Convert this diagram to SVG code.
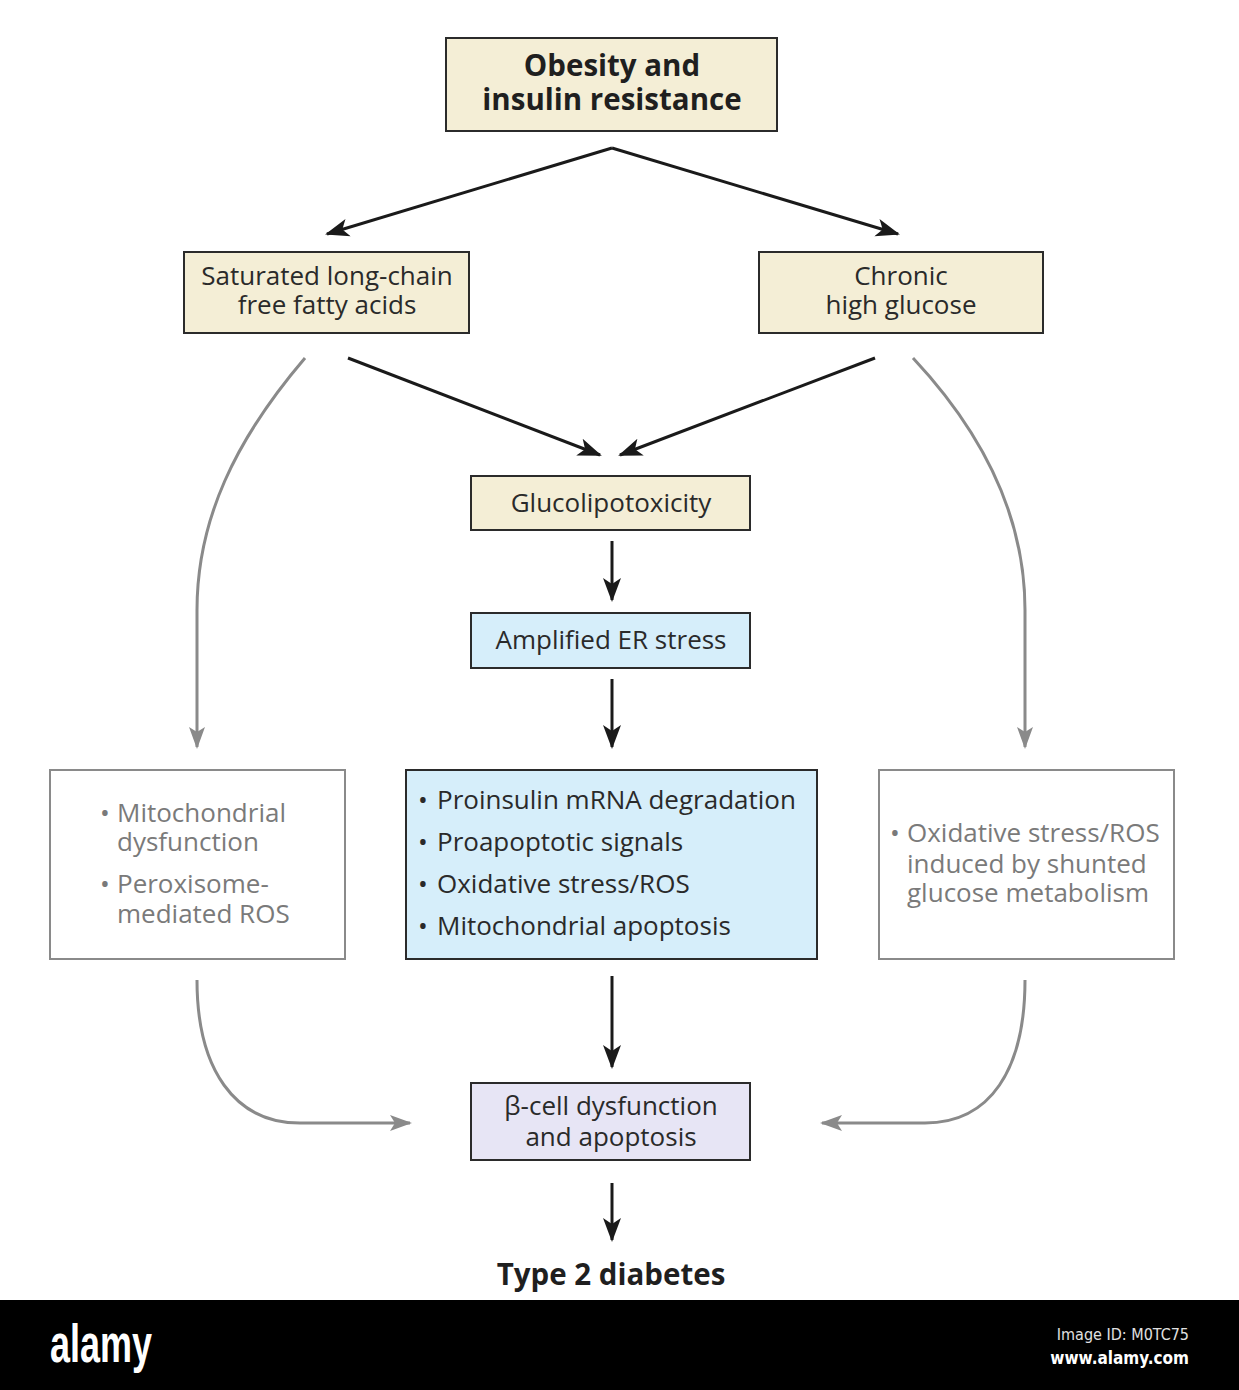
<svg xmlns="http://www.w3.org/2000/svg" width="1239" height="1390" viewBox="0 0 1239 1390">
<defs>
<style>
.box{stroke:#2b2b2b;stroke-width:2}
.beige{fill:#f4eed6}
.blue{fill:#d6eefa}
.lav{fill:#e7e5f5}
.gbox{fill:#ffffff;stroke:#8a8a8a;stroke-width:2}
.t{font-family:"Open Sans","Noto Sans","Liberation Sans",sans-serif;fill:#2a2a2a;font-size:26px}
.tb{font-family:"Open Sans","Noto Sans","Liberation Sans",sans-serif;fill:#1f1f1f;font-size:29.5px;font-weight:bold}
.g{font-family:"Open Sans","Noto Sans","Liberation Sans",sans-serif;fill:#7a7a7a;font-size:26px}
.c{text-anchor:middle}
.k{fill:none;stroke:#1a1a1a;stroke-width:3}
.gr{fill:none;stroke:#8a8a8a;stroke-width:3}
</style>
<marker id="ak" markerUnits="userSpaceOnUse" markerWidth="24" markerHeight="20" viewBox="0 0 24 20" refX="22" refY="10" orient="auto">
<path d="M0,1 L24,10 L0,19 L6,10 Z" fill="#1a1a1a"/>
</marker>
<marker id="ag" markerUnits="userSpaceOnUse" markerWidth="22" markerHeight="18" viewBox="0 0 22 18" refX="20" refY="9" orient="auto">
<path d="M0,1 L22,9 L0,17 L5,9 Z" fill="#8a8a8a"/>
</marker>
</defs>
<rect width="1239" height="1390" fill="#ffffff"/>

<g id="connectors">
<path class="k" d="M612,148 L327,234" marker-end="url(#ak)"/>
<path class="k" d="M612,148 L898,234" marker-end="url(#ak)"/>
<path class="k" d="M348,358 L600,455" marker-end="url(#ak)"/>
<path class="k" d="M875,358 L620,455" marker-end="url(#ak)"/>
<path class="k" d="M612,541 L612,600" marker-end="url(#ak)"/>
<path class="k" d="M612,679 L612,747" marker-end="url(#ak)"/>
<path class="k" d="M612,976 L612,1067" marker-end="url(#ak)"/>
<path class="k" d="M612,1183 L612,1240" marker-end="url(#ak)"/>
<path class="gr" d="M305,358 C235,440 197,520 197,610 L197,747" marker-end="url(#ag)"/>
<path class="gr" d="M913,358 C985,435 1025,520 1025,610 L1025,747" marker-end="url(#ag)"/>
<path class="gr" d="M197,980 C197,1070 235,1123 300,1123 L410,1123" marker-end="url(#ag)"/>
<path class="gr" d="M1025,980 C1025,1070 990,1123 925,1123 L822,1123" marker-end="url(#ag)"/>
</g>

<g id="obesity">
<rect class="box beige" x="446" y="38" width="331" height="93"/>
<text class="tb c" x="612" y="76">Obesity and</text>
<text class="tb c" x="612" y="110">insulin resistance</text>
</g>

<g id="ffa">
<rect class="box beige" x="184" y="252" width="285" height="81"/>
<text class="t c" x="327" y="285">Saturated long-chain</text>
<text class="t c" x="327" y="314">free fatty acids</text>
</g>

<g id="glucose">
<rect class="box beige" x="759" y="252" width="284" height="81"/>
<text class="t c" x="901" y="285">Chronic</text>
<text class="t c" x="901" y="314">high glucose</text>
</g>

<g id="glucolipotoxicity">
<rect class="box beige" x="471" y="476" width="279" height="54"/>
<text class="t c" x="611" y="512" font-size="27">Glucolipotoxicity</text>
</g>

<g id="er-stress">
<rect class="box blue" x="471" y="613" width="279" height="55"/>
<text class="t c" x="611" y="649">Amplified ER stress</text>
</g>

<g id="mechanisms">
<rect class="box blue" x="406" y="770" width="411" height="189"/>
<text class="t" x="418" y="809">•</text><text class="t" x="437" y="809">Proinsulin mRNA degradation</text>
<text class="t" x="418" y="851">•</text><text class="t" x="437" y="851">Proapoptotic signals</text>
<text class="t" x="418" y="893">•</text><text class="t" x="437" y="893">Oxidative stress/ROS</text>
<text class="t" x="418" y="935">•</text><text class="t" x="437" y="935">Mitochondrial apoptosis</text>
</g>

<g id="ffa-effects">
<rect class="gbox" x="50" y="770" width="295" height="189"/>
<text class="g" x="100" y="822">•</text><text class="g" x="117" y="822">Mitochondrial</text>
<text class="g" x="117" y="851">dysfunction</text>
<text class="g" x="100" y="893">•</text><text class="g" x="117" y="893">Peroxisome-</text>
<text class="g" x="117" y="923">mediated ROS</text>
</g>

<g id="glucose-effects">
<rect class="gbox" x="879" y="770" width="295" height="189"/>
<text class="g" x="890" y="842">•</text><text class="g" x="907" y="842">Oxidative stress/ROS</text>
<text class="g" x="907" y="873">induced by shunted</text>
<text class="g" x="907" y="902">glucose metabolism</text>
</g>

<g id="beta-cell">
<rect class="box lav" x="471" y="1083" width="279" height="77"/>
<text class="t c" x="611" y="1115">β-cell dysfunction</text>
<text class="t c" x="611" y="1146">and apoptosis</text>
</g>

<g id="t2d">
<text class="tb c" x="611" y="1285" font-size="30">Type 2 diabetes</text>
</g>

<g id="banner">
<rect x="0" y="1300" width="1239" height="90" fill="#000000"/>
<text x="50" y="1362" font-family="'Liberation Sans Narrow','Liberation Sans',sans-serif" font-weight="bold" font-size="54" fill="#ffffff" textLength="102" lengthAdjust="spacingAndGlyphs">alamy</text>
<text x="1189" y="1340" text-anchor="end" font-family="'DejaVu Sans Condensed','Liberation Sans',sans-serif" font-size="16" fill="#e0e0e0">Image ID: M0TC75</text>
<text x="1189" y="1364" text-anchor="end" font-family="'DejaVu Sans Condensed','Liberation Sans',sans-serif" font-weight="bold" font-size="17" fill="#ffffff">www.alamy.com</text>
</g>
</svg>
